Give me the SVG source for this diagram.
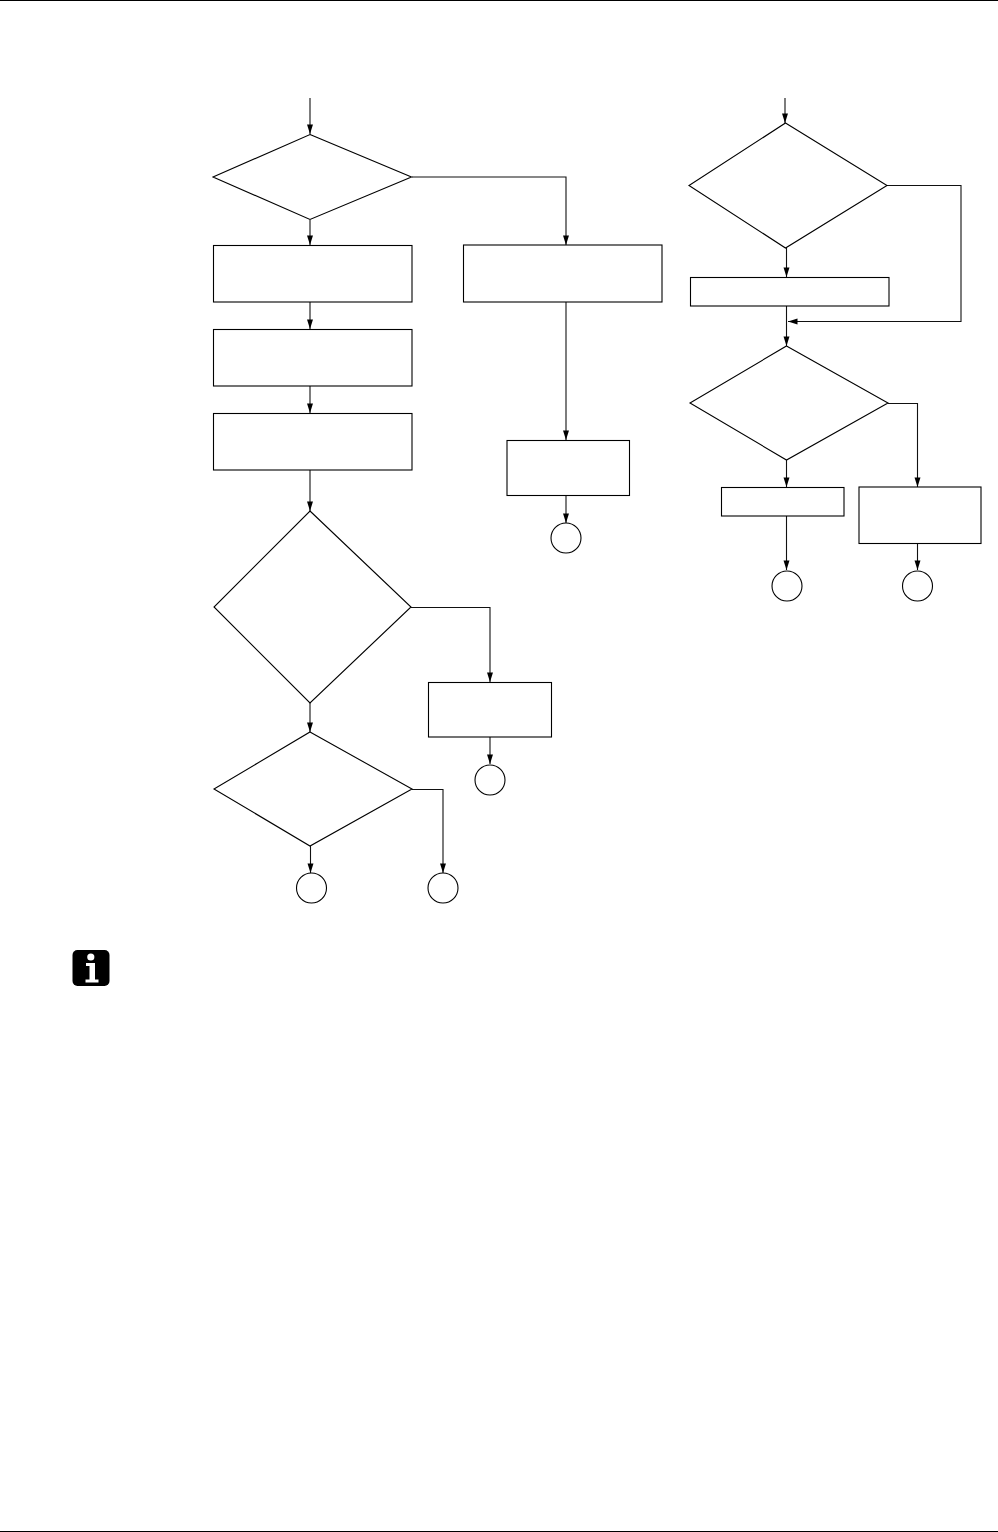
<svg xmlns="http://www.w3.org/2000/svg" width="998" height="1532" viewBox="0 0 998 1532">
<style>
.s{fill:#fff;stroke:#000;stroke-width:1.1}
.c{fill:none;stroke:#111;stroke-width:1.1}
.a{marker-end:url(#ah)}
.r{fill:#000;stroke:none}
.w{fill:#fff;stroke:none}
</style>
<defs>
<marker id="ah" markerUnits="userSpaceOnUse" markerWidth="10" markerHeight="6.500" refX="9.500" refY="3.250" orient="auto" viewBox="0 0 10 6.500" overflow="visible">
<path d="M0 0.250L9.500 3.250L0 6.250Z" fill="#000"/>
</marker>
</defs>
<rect class="r" x="0" y="0" width="998" height="1"/>
<rect class="r" x="0" y="1531" width="998" height="1"/>
<g id="connectors">
<path class="c a" d="M310 98V134"/>
<path class="c a" d="M310 220V245"/>
<path class="c a" d="M310 302V329"/>
<path class="c a" d="M310 386V413"/>
<path class="c a" d="M310 470V511"/>
<path class="c a" d="M310 703V732"/>
<path class="c a" d="M310.500 846V873"/>
<path class="c a" d="M412 789.500H443V873"/>
<path class="c a" d="M411 607.500H490V682"/>
<path class="c a" d="M490 737V764"/>
<path class="c a" d="M412 177H566V245"/>
<path class="c a" d="M566 302V440"/>
<path class="c a" d="M566 495V523"/>
<path class="c a" d="M785 98V123"/>
<path class="c a" d="M786.500 248V277"/>
<path class="c a" d="M786.500 306V346"/>
<path class="c a" d="M887 185.500H961V321.500H788"/>
<path class="c a" d="M786.500 460V487"/>
<path class="c a" d="M786.500 516V570"/>
<path class="c a" d="M888 403.500H917.500V487"/>
<path class="c a" d="M917.500 544V570"/>
</g>
<g id="d1"><polygon class="s" points="310,134.500 411.500,177 310,219.500 213,177"/></g>
<g id="p1"><rect class="s" x="213.500" y="245.500" width="198.500" height="56.500"/></g>
<g id="p2"><rect class="s" x="213.500" y="329.500" width="198.500" height="56.500"/></g>
<g id="p3"><rect class="s" x="213.500" y="413.500" width="198.500" height="56.500"/></g>
<g id="d2"><polygon class="s" points="310,511 411,607 310,703 214,607"/></g>
<g id="d3"><polygon class="s" points="310,732 412,789 310,846 214,789"/></g>
<g id="c1"><circle class="s" cx="311.500" cy="888" r="15"/></g>
<g id="c2"><circle class="s" cx="443" cy="888" r="15"/></g>
<g id="p4"><rect class="s" x="428.500" y="682.500" width="123" height="54.500"/></g>
<g id="c3"><circle class="s" cx="490" cy="780" r="15"/></g>
<g id="p5"><rect class="s" x="463.500" y="245" width="198.500" height="57"/></g>
<g id="p6"><rect class="s" x="507" y="440.500" width="122.500" height="55"/></g>
<g id="c4"><circle class="s" cx="566" cy="538" r="15"/></g>
<g id="d4"><polygon class="s" points="785.500,123 887,185.500 785.500,248 689,185.500"/></g>
<g id="p7"><rect class="s" x="690.500" y="277.500" width="198.500" height="28.500"/></g>
<g id="d5"><polygon class="s" points="786.500,346 888,403 786.500,460 690,403"/></g>
<g id="p8"><rect class="s" x="721.500" y="487.500" width="122.500" height="28.500"/></g>
<g id="p9"><rect class="s" x="859" y="487" width="122" height="56.500"/></g>
<g id="c5"><circle class="s" cx="787" cy="586" r="15"/></g>
<g id="c6"><circle class="s" cx="917.500" cy="586" r="15"/></g>
<g id="info">
<rect class="r" x="72.500" y="950" width="37" height="36" rx="5"/>
<circle class="w" cx="90.800" cy="957" r="3.600"/>
<rect class="w" x="86" y="963" width="9" height="3"/>
<rect class="w" x="89.500" y="963" width="5.500" height="17"/>
<rect class="w" x="85.500" y="979.500" width="13" height="3"/>
</g>
</svg>
